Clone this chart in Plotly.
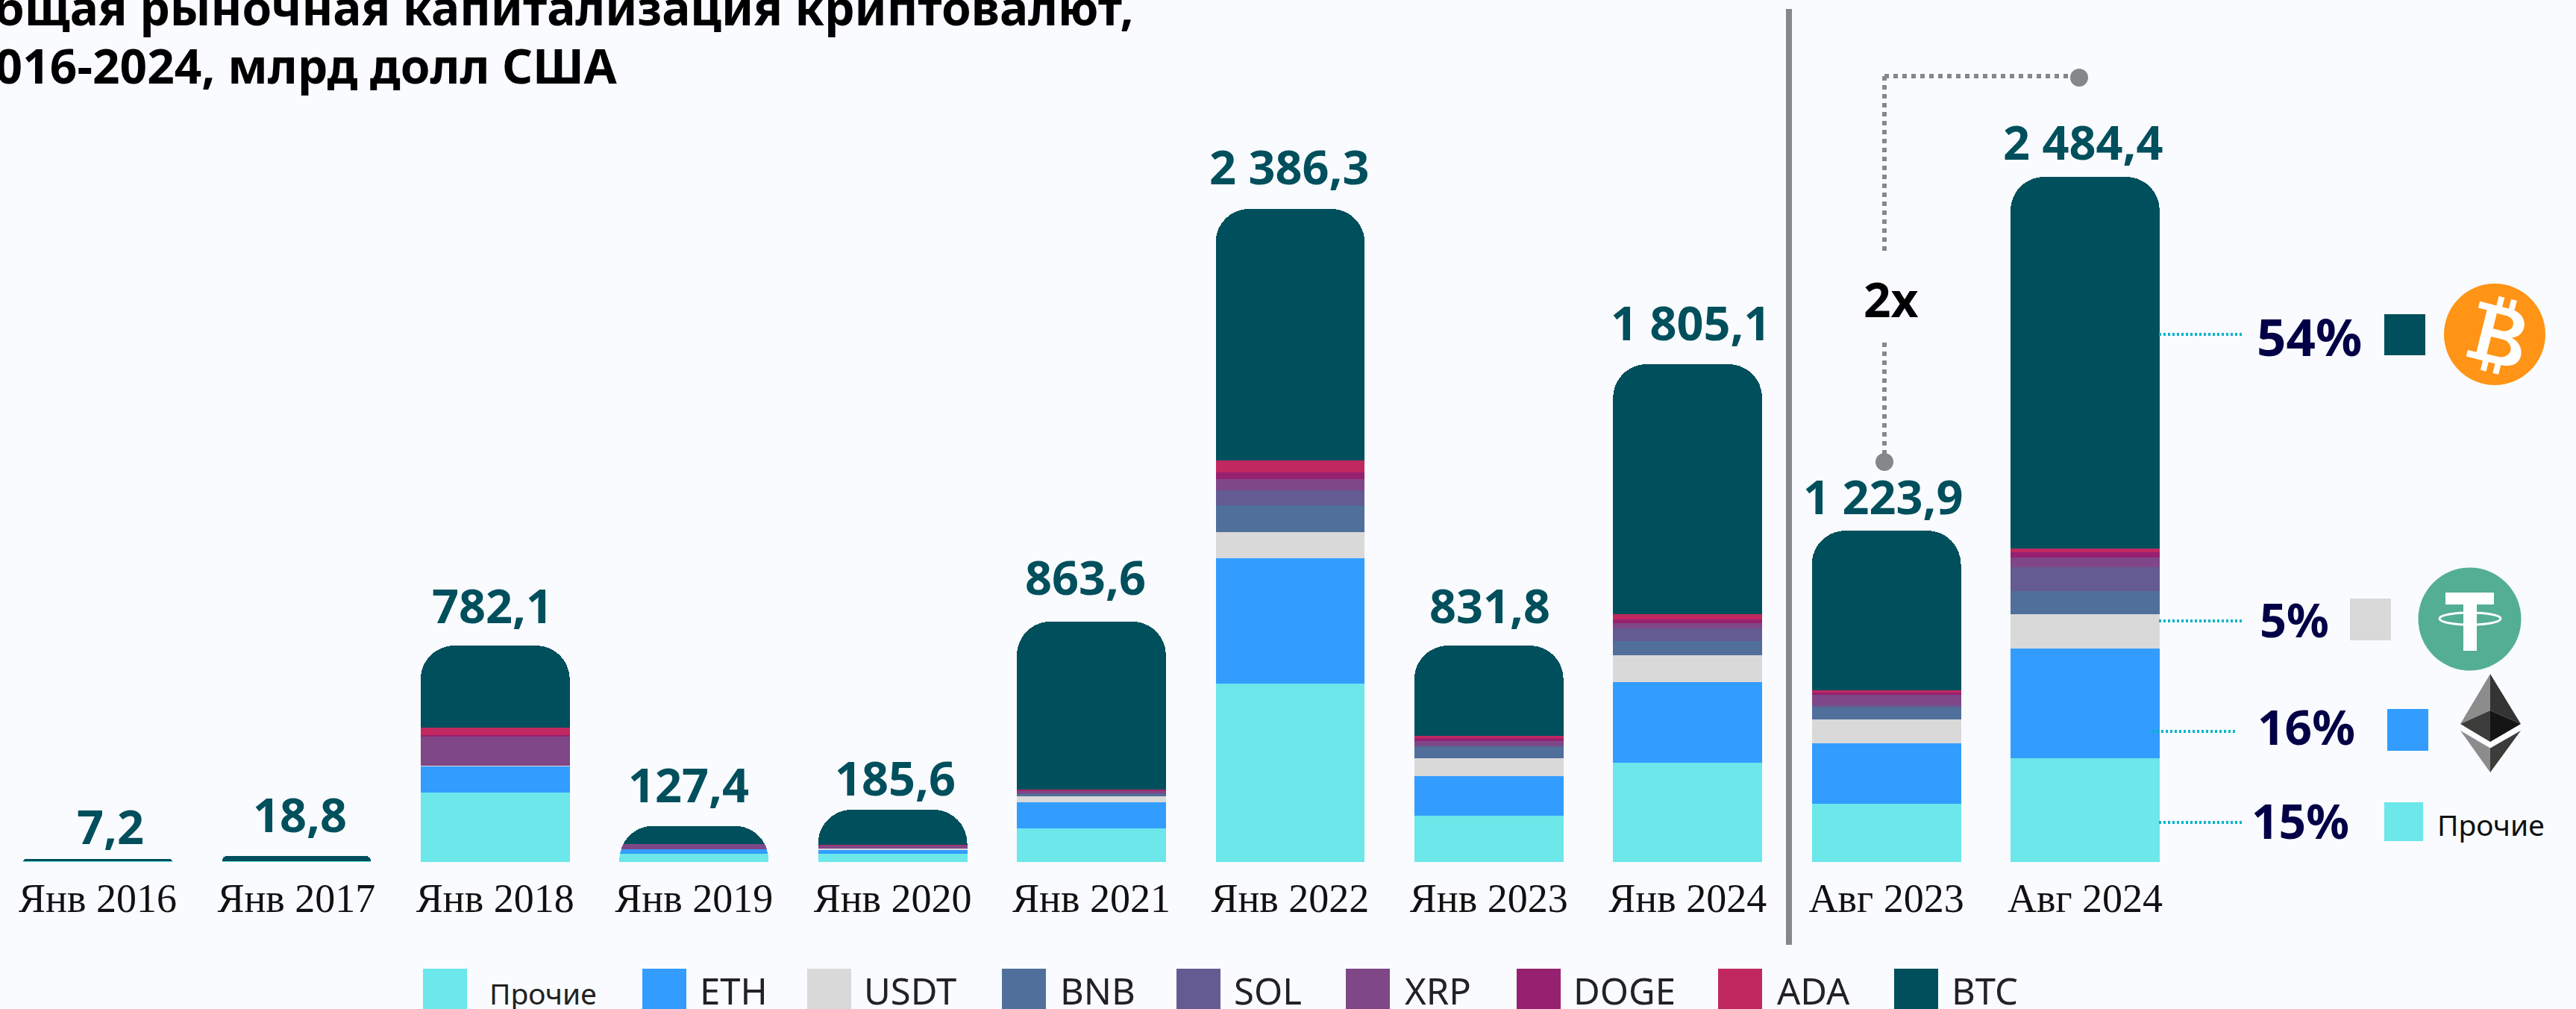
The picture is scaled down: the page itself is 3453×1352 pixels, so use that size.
import math
import plotly.graph_objects as go

W, H = 3453, 1352
BASE = 1155
PX_PER_UNIT = 0.37

categories = ["Янв 2016", "Янв 2017", "Янв 2018", "Янв 2019", "Янв 2020", "Янв 2021",
              "Янв 2022", "Янв 2023", "Янв 2024", "Авг 2023", "Авг 2024"]
total_labels = ["7,2", "18,8", "782,1", "127,4", "185,6", "863,6",
                "2 386,3", "831,8", "1 805,1", "1 223,9", "2 484,4"]

others = [2.7, 2.7, 251, 29.7, 29.7, 121.6, 646, 167.6, 359.5, 210.8, 375.7]
eth = [0, 0, 95, 17, 16.2, 94.6, 454, 144, 292, 219, 397.3]
usdt = [0, 0, 2.7, 0, 2.7, 21.6, 94.6, 64.9, 97.3, 86.5, 124.3]
bnb = [0, 0, 0, 0, 0, 8.9, 97.3, 42.4, 51.4, 41.9, 83.8]
sol = [0, 0, 0, 0, 0, 1.1, 54, 2.7, 46, 9.5, 86.5]
xrp = [0, 0, 108, 18, 11.6, 10, 41.9, 17, 18.9, 37.8, 35.1]
doge = [0, 0, 2.7, 0, 0, 1.9, 23, 10.8, 13.5, 8.1, 18.9]
ada = [0, 0, 27, 0, 1.9, 2.7, 43.2, 8.1, 18.9, 8.1, 13.5]
btc = [8.1, 18.9, 297, 65.7, 127, 608, 911, 326, 905, 578, 1346]

series_names = ["Прочие", "ETH", "USDT", "BNB", "SOL", "XRP", "DOGE", "ADA", "BTC"]
series_values = [others, eth, usdt, bnb, sol, xrp, doge, ada, btc]
series_colors = ["#6CE7EA", "#329DFF", "#D9D9D9", "#516F9B", "#645B92",
                 "#7F4787", "#962170", "#C22860", "#004F5C"]

BG = "#F9FBFF"
TEAL = "#004F5C"
NAVY = "#020046"
GREY = "#86878B"
CYAN = "#00B4C8"

# Hand-placement of the total labels, in pixels
label_dx = [17, 5, -4, -7, 3, -8, -1, 1, 4, -4, -3]
label_dy = [45, 57, 55, 56, 44, 60, 57, 55, 57, 47, 47]


def xp(px):
    return px / W


def yp(py):
    return (BASE - py) / BASE


fig = go.Figure()
for name, vals, col in zip(series_names, series_values, series_colors):
    fig.add_bar(x=categories, y=vals, name=name, marker=dict(color=col, line=dict(width=0)),
                hoverinfo="x+y+name")

shapes = []
ann = []


def line(x0, y0, x1, y1, color, width, dash="solid"):
    shapes.append(dict(type="line", xref="paper", yref="paper", x0=xp(x0), x1=xp(x1),
                       y0=yp(y0), y1=yp(y1), line=dict(color=color, width=width, dash=dash)))


def rect(x0, y0, x1, y1, color):
    shapes.append(dict(type="rect", xref="paper", yref="paper", x0=xp(x0), x1=xp(x1),
                       y0=yp(y0), y1=yp(y1), fillcolor=color, line=dict(width=0)))


def circle(cx, cy, rx, ry, fill, outline=None, width=0):
    shapes.append(dict(type="circle", xref="paper", yref="paper", x0=xp(cx - rx), x1=xp(cx + rx),
                       y0=yp(cy - ry), y1=yp(cy + ry), fillcolor=fill,
                       line=dict(color=outline or fill, width=width)))


def poly(points, color):
    d = "M " + " L ".join(f"{xp(x):.6f},{yp(y):.6f}" for x, y in points) + " Z"
    shapes.append(dict(type="path", xref="paper", yref="paper", path=d, fillcolor=color, line=dict(width=0)))


def text(px, py, s, size, color, bold=False, family="Noto Sans", xanchor="center"):
    ann.append(dict(xref="paper", yref="paper", x=xp(px), y=yp(py), text=f"<b>{s}</b>" if bold else s,
                    showarrow=False, xanchor=xanchor, yanchor="middle",
                    font=dict(size=size, color=color, family=family)))


# Total labels above the stacks
for i, (cat, lab) in enumerate(zip(categories, total_labels)):
    total = sum(v[i] for v in series_values)
    ann.append(dict(x=cat, y=total, text=f"<b>{lab}</b>", showarrow=False, xanchor="center",
                    yanchor="middle", xshift=label_dx[i], yshift=label_dy[i],
                    font=dict(size=63, color=TEAL, family="Noto Sans")))

# Title, cut by the page edges as in the source
text(1522, 9, "Общая рыночная капитализация криптовалют,", 64, "#000000", True, xanchor="right")
text(830, 88, "2016-2024, млрд долл США", 64, "#000000", True, xanchor="right")

# Divider
line(2398, 12, 2398, 1266, GREY, 8)

# 2x connector
line(2526, 102, 2526, 341, GREY, 6, "6px,6px")
line(2526, 459, 2526, 619, GREY, 6, "6px,6px")
line(2526, 102, 2787, 102, GREY, 6, "6px,6px")
circle(2526, 619, 12, 12, GREY)
circle(2787, 104, 12, 12, GREY)
text(2535, 401, "2x", 64, "#000000", True)

# Callouts
for x0, x1, y in [(2894, 3008, 448), (2894, 3008, 832), (2885, 2999, 980), (2894, 3008, 1102)]:
    line(x0, y, x1, y, CYAN, 4, "3px,3px")
text(3095, 450, "54%", 69, NAVY, True)
text(3075, 829, "5%", 63, NAVY, True)
text(3091, 973, "16%", 64, NAVY, True)
text(3083, 1099, "15%", 64, NAVY, True)
rect(3196, 421, 3251, 476, TEAL)
rect(3150, 802, 3205, 858, "#D9D9D9")
rect(3200, 950, 3255, 1006, "#329DFF")
rect(3196, 1075, 3248, 1127, "#6CE7EA")
text(3265, 1104, "Прочие", 39, "#111111", xanchor="left")

# Bitcoin badge
cx, cy = 3344, 448
circle(cx, cy, 68, 68, "#FF9416")


def rot(u, v, deg=14):
    a = math.radians(deg)
    return cx + u * math.cos(a) - v * math.sin(a), cy + u * math.sin(a) + v * math.cos(a)


def P(u, v):
    x, y = rot(u, v)
    return f"{xp(x):.6f},{yp(y):.6f}"


b_path = (
    f"M {P(-30,-38)} L {P(12,-38)} C {P(30,-38)} {P(36,-26)} {P(36,-19)} C {P(36,-9)} {P(30,-3)} {P(23,-1)} "
    f"C {P(33,1)} {P(41,9)} {P(41,20)} C {P(41,32)} {P(31,38)} {P(16,38)} L {P(-30,38)} L {P(-30,29)} "
    f"L {P(-18,29)} L {P(-18,-29)} L {P(-30,-29)} Z "
    f"M {P(-4,-28)} L {P(-4,-7)} L {P(8,-7)} C {P(16,-7)} {P(21,-12)} {P(21,-18)} C {P(21,-24)} {P(16,-28)} {P(8,-28)} Z "
    f"M {P(-4,4)} L {P(-4,28)} L {P(11,28)} C {P(20,28)} {P(26,22)} {P(26,16)} C {P(26,9)} {P(20,4)} {P(11,4)} Z "
    f"M {P(-7,-51)} L {P(1,-51)} L {P(1,-38)} L {P(-7,-38)} Z M {P(10,-51)} L {P(18,-51)} L {P(18,-38)} L {P(10,-38)} Z "
    f"M {P(-7,38)} L {P(1,38)} L {P(1,51)} L {P(-7,51)} Z M {P(10,38)} L {P(18,38)} L {P(18,51)} L {P(10,51)} Z"
)
shapes.append(dict(type="path", xref="paper", yref="paper", path=b_path, fillcolor="#FFFFFF",
                   fillrule="evenodd", line=dict(width=0)))

# Tether badge
circle(3310.5, 829.5, 69, 69, "#53AE94")
rect(3278, 794, 3343, 810, "#FFFFFF")
rect(3302, 810, 3320, 872, "#FFFFFF")
circle(3311, 829, 41, 8, "rgba(0,0,0,0)", "#FFFFFF", 3)

# Ethereum badge
poly([(3338, 903), (3298, 970), (3338, 952)], "#8C8C8C")
poly([(3338, 903), (3379, 970), (3338, 952)], "#343434")
poly([(3298, 970), (3338, 952), (3338, 994)], "#3C3C3B")
poly([(3379, 970), (3338, 952), (3338, 994)], "#141414")
poly([(3298, 979), (3338, 1002.5), (3338, 1035)], "#8C8C8C")
poly([(3379, 979), (3338, 1002.5), (3338, 1035)], "#3C3C3B")

# Legend row drawn by hand: the source has uneven spacing
legend_swatch_x = [567, 861, 1082, 1343, 1577, 1804, 2033, 2303, 2539]
legend_text_x = [654, 936, 1156, 1419, 1652, 1881, 2107, 2380, 2614]
for name, col, sx, tx in zip(series_names, series_colors, legend_swatch_x, legend_text_x):
    rect(sx, 1298, sx + 59, 1360, col)
    if name == "Прочие":
        text(tx, 1330, name, 39, "#222222", xanchor="left")
    else:
        text(tx, 1327, name, 49, "#222222", xanchor="left")

fig.update_layout(
    width=W, height=H, autosize=False,
    margin=dict(l=0, r=0, t=0, b=H - BASE, pad=0),
    paper_bgcolor=BG, plot_bgcolor=BG,
    barmode="stack", bargap=0.25, barcornerradius=45,
    showlegend=False,
    shapes=shapes, annotations=ann,
    xaxis=dict(type="category", categoryorder="array", categoryarray=categories,
               range=[-131 / 266.4, (W - 131) / 266.4], showgrid=False, zeroline=False, showline=False,
               ticks="", ticklabelstandoff=12,
               tickfont=dict(family="Liberation Serif", size=54, color="#111111"), automargin=False),
    yaxis=dict(range=[0, BASE / PX_PER_UNIT], visible=False, fixedrange=True),
)

fig.write_html("out.html", config={"displayModeBar": False},
               post_script=f"document.body.style.margin='0';document.body.style.background='{BG}';document.body.style.overflow='hidden';")
